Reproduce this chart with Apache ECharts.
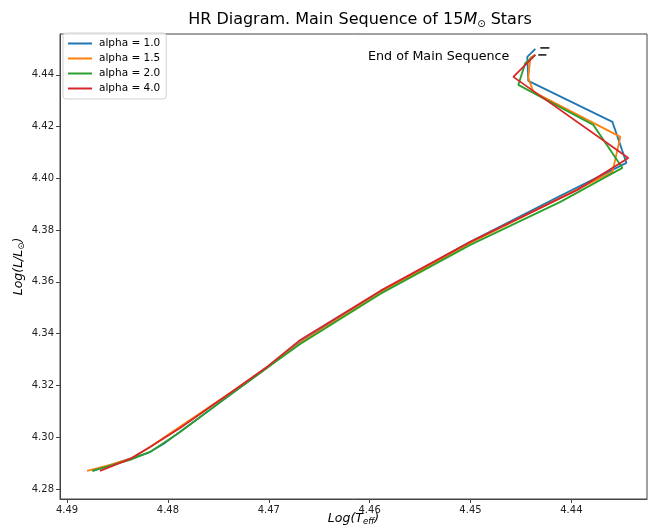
<!DOCTYPE html>
<html>
<head>
<meta charset="utf-8">
<script src="https://cdn.jsdelivr.net/npm/echarts@6/dist/echarts.min.js"></script>
<style>
  html, body { margin: 0; padding: 0; background: #fff; }
  #chart { width: 648px; height: 529px; }
</style>
</head>
<body>
<div id="chart"></div>
<script>
// log Teff / log L along each track
const logT_a10 = [4.48742, 4.48474, 4.48196, 4.48028, 4.47829, 4.47383, 4.47006, 4.46688, 4.45895, 4.45002, 4.44109, 4.43454, 4.43593, 4.44427, 4.44437, 4.44357];
const logL_a10 = [4.28696, 4.29043, 4.29391, 4.29778, 4.30357, 4.31633, 4.32715, 4.33681, 4.35614, 4.37546, 4.39324, 4.40599, 4.42184, 4.43768, 4.44696, 4.45005];

const logT_a15 = [4.48802, 4.48573, 4.48375, 4.48177, 4.47929, 4.47383, 4.47006, 4.46688, 4.45895, 4.45002, 4.44109, 4.43593, 4.43514, 4.44377, 4.44427, 4.44407, 4.44357];
const logL_a15 = [4.28696, 4.28928, 4.29159, 4.29623, 4.30280, 4.31710, 4.32715, 4.33643, 4.35575, 4.37507, 4.39246, 4.40251, 4.41604, 4.43343, 4.43884, 4.44657, 4.44773];

const logT_a20 = [4.48752, 4.48375, 4.48177, 4.47879, 4.47383, 4.47006, 4.46688, 4.45895, 4.45002, 4.44109, 4.43494, 4.43782, 4.44526, 4.44456, 4.44357];
const logL_a20 = [4.28696, 4.29121, 4.29430, 4.30203, 4.31633, 4.32715, 4.33604, 4.35536, 4.37430, 4.39092, 4.40406, 4.42068, 4.43614, 4.44464, 4.44773];

const logT_a40 = [4.48673, 4.48375, 4.48177, 4.47879, 4.47383, 4.47006, 4.46688, 4.45895, 4.45002, 4.43940, 4.43435, 4.44575, 4.44357];
const logL_a40 = [4.28696, 4.29159, 4.29623, 4.30357, 4.31710, 4.32754, 4.33758, 4.35652, 4.37546, 4.39556, 4.40792, 4.43923, 4.44773];

// short dark strokes at the end of the tracks
const endT = [[4.44308, 4.44218], [4.44328, 4.44248]];
const endL = [[4.45043, 4.45043], [4.44773, 4.44773]];

const seriesNames = ['alpha = 1.0', 'alpha = 1.5', 'alpha = 2.0', 'alpha = 4.0'];
const xTicks = [4.44, 4.45, 4.46, 4.47, 4.48, 4.49];
const yTicks = [4.28, 4.30, 4.32, 4.34, 4.36, 4.38, 4.40, 4.42, 4.44];

const colors = ['#1f77b4', '#ff7f0e', '#2ca02c', '#d62728'];
const tracks = [[logT_a10, logL_a10], [logT_a15, logL_a15], [logT_a20, logL_a20], [logT_a40, logL_a40]];

function zip(xs, ys) {
    return xs.map((x, i) => [x, ys[i]]);
}

const font = 'DejaVu Sans';

let series = tracks.map((t, i) => ({
    name: seriesNames[i],
    type: 'line',
    data: zip(t[0], t[1]),
    showSymbol: false,
    symbol: 'none',
    lineStyle: { width: 1.8, color: colors[i] },
    itemStyle: { color: colors[i] },
    animation: false,
    z: 2 + i
}));

endT.forEach((e, i) => {
    series.push({
        name: 'end' + i,
        type: 'line',
        data: zip(e, endL[i]),
        symbol: 'none',
        lineStyle: { width: 1.8, color: '#333' },
        animation: false,
        z: 10
    });
});

let chart = echarts.init(document.getElementById('chart'), null, { renderer: 'canvas' });

let option = {
    animation: false,
    color: colors,
    title: {
        text: '{n|HR Diagram. Main Sequence of 15}{i|M}{s|⊙}{n| Stars}',
        left: 355, top: 5, textAlign: 'center',
        textStyle: {
            fontWeight: 'normal',
            rich: {
                n: { fontFamily: font, fontSize: 16, fontWeight: 'normal', color: '#000' },
                i: { fontFamily: font, fontSize: 16, fontStyle: 'italic', fontWeight: 'normal', color: '#000' },
                s: { fontFamily: font, fontSize: 10, fontWeight: 'normal', color: '#000', padding: [9, 0, 0, 0] }
            }
        }
    },
    legend: {
        data: seriesNames,
        orient: 'vertical',
        left: 63, top: 33,
        itemWidth: 24, itemHeight: 2,
        itemGap: 4,
        icon: 'rect',
        padding: [5, 6, 5, 5],
        borderColor: '#d0d0d0', borderWidth: 1, borderRadius: 3,
        backgroundColor: 'rgba(255,255,255,0.8)',
        textStyle: { fontFamily: font, fontSize: 10.5, color: '#000', padding: [0, 0, 0, 2] }
    },
    grid: {
        left: 60, right: 1, top: 34, bottom: 30,
        outerBoundsMode: 'none',
        show: true, borderColor: '#444', borderWidth: 1, backgroundColor: 'transparent'
    },
    xAxis: {
        type: 'value',
        inverse: true,
        min: 4.4325, max: 4.4907,
        name: '{i|Log(T}{s|eff}{i|)}',
        nameLocation: 'middle', nameGap: 12,
        nameMoveOverlap: false,
        nameTextStyle: {
            rich: {
                i: { fontFamily: font, fontSize: 12.5, fontStyle: 'italic', color: '#000' },
                s: { fontFamily: font, fontSize: 8.5, fontStyle: 'italic', color: '#000', padding: [6, 0, 0, 0] }
            }
        },
        axisLine: { show: true, lineStyle: { color: '#444', width: 1 } },
        axisTick: { show: true, length: 4, customValues: xTicks, lineStyle: { color: '#444' } },
        axisLabel: {
            customValues: xTicks, fontFamily: font, fontSize: 10, color: '#222', margin: 6,
            formatter: v => v.toFixed(2)
        },
        splitLine: { show: false }
    },
    yAxis: {
        type: 'value',
        min: 4.2761, max: 4.4558,
        name: '{i|Log(L/L}{s|⊙}{i|)}',
        nameLocation: 'middle', nameGap: 34, nameRotate: 90,
        nameMoveOverlap: false,
        nameTextStyle: {
            rich: {
                i: { fontFamily: font, fontSize: 12.5, fontStyle: 'italic', color: '#000' },
                s: { fontFamily: font, fontSize: 8.5, color: '#000', padding: [6, 0, 0, 0] }
            }
        },
        axisLine: { show: true, lineStyle: { color: '#444', width: 1 } },
        axisTick: { show: true, length: 4, customValues: yTicks, lineStyle: { color: '#444' } },
        axisLabel: {
            customValues: yTicks, fontFamily: font, fontSize: 10, color: '#222', margin: 6,
            formatter: v => v.toFixed(2)
        },
        splitLine: { show: false }
    },
    graphic: [{
        type: 'text',
        left: 368, top: 50,
        style: { text: 'End of Main Sequence', fontFamily: font, fontSize: 12.7, fill: '#000' }
    }],
    series: series
};

chart.setOption(option);
</script>
</body>
</html>
